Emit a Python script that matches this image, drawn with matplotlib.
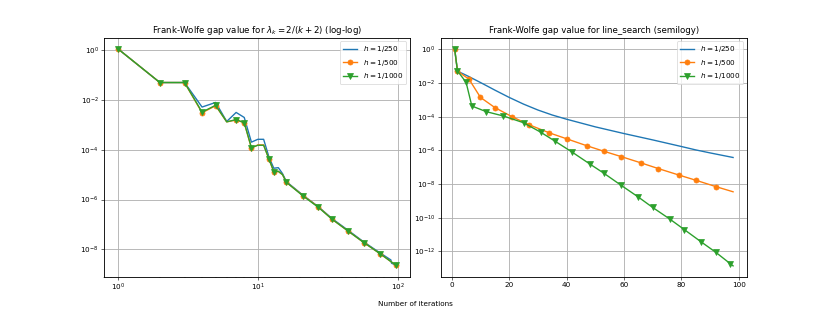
import numpy as np
import matplotlib
matplotlib.use("Agg")
import matplotlib.pyplot as plt

labels = [r"$h = 1/250$", r"$h = 1/500$", r"$h = 1/1000$"]

# log-log panel (step size 2/(k+2))
k_ll = [1, 2, 3, 4, 5, 6, 7, 8, 9, 10, 11, 12, 13, 14, 15, 16, 21, 27, 34, 44, 57, 75, 96, 97]
gap_ll_250 = [1.12, 4.9e-2, 4.9e-2, 5.1e-3, 7.8e-3, 1.35e-3, 3.1e-3, 1.95e-3, 2.0e-4, 2.6e-4,
              2.6e-4, 5.1e-5, 1.8e-5, 1.9e-5, 1.1e-5, 5.2e-6, 1.5e-6, 5.2e-7, 1.7e-7, 5.9e-8,
              2.0e-8, 7.1e-9, 2.4e-9, 2.2e-9]
gap_ll_500 = [1.12, 4.9e-2, 4.9e-2, 3.0e-3, 5.8e-3, 1.3e-3, 1.55e-3, 1.2e-3, 1.15e-4, 1.55e-4,
              1.55e-4, 4.2e-5, 1.3e-5, 1.35e-5, 1.0e-5, 4.9e-6, 1.45e-6, 5.1e-7, 1.6e-7, 5.5e-8,
              1.9e-8, 6.6e-9, 2.4e-9, 2.2e-9]
gap_ll_1000 = [1.12, 4.9e-2, 4.9e-2, 3.2e-3, 6.0e-3, 1.3e-3, 1.6e-3, 1.2e-3, 1.2e-4, 1.5e-4,
               1.5e-4, 4.3e-5, 1.3e-5, 1.35e-5, 1.0e-5, 4.9e-6, 1.4e-6, 4.9e-7, 1.6e-7, 5.5e-8,
               1.9e-8, 6.6e-9, 2.4e-9, 2.2e-9]
# the 1/250 run has a small bump near the end
k_ll_250_tail = [89, 90]
gap_ll_250_tail = [3.8e-9, 2.8e-9]
marks_ll = [0, 1, 2, 3, 4, 6, 7, 8, 11, 12, 15, 16, 17, 18, 19, 20, 21, 22]

# semilogy panel (line search)
k_ls_250 = [1, 2, 4, 6, 8, 10, 12, 15, 20, 25, 30, 35, 40, 50, 60, 70, 80, 85, 90, 95, 98]
gap_ls_250 = [1.1, 5.0e-2, 3.5e-2, 2.4e-2, 1.6e-2, 1.07e-2, 7.1e-3, 3.8e-3, 1.4e-3, 5.6e-4,
              2.5e-4, 1.26e-4, 7.1e-5, 2.5e-5, 1.0e-5, 4.2e-6, 1.7e-6, 1.07e-6, 7.1e-7, 4.8e-7,
              3.8e-7]
k_ls_500 = [1, 2, 6, 10, 15, 21, 27, 34, 40, 47, 53, 59, 66, 72, 79, 85, 92, 98]
gap_ls_500 = [1.1, 5.0e-2, 1.7e-2, 1.4e-3, 3.5e-4, 1.0e-4, 3.3e-5, 1.1e-5, 4.9e-6, 1.9e-6,
              8.9e-7, 4.3e-7, 1.8e-7, 8.3e-8, 3.5e-8, 1.7e-8, 7.1e-9, 3.5e-9]
k_ls_1000 = [1, 2, 5, 7, 12, 18, 25, 31, 36, 42, 48, 53, 59, 65, 70, 76, 81, 87, 92, 97, 98]
gap_ls_1000 = [1.1, 5.2e-2, 1.1e-2, 4.3e-4, 2.0e-4, 1.1e-4, 4.4e-5, 1.2e-5, 3.5e-6, 7.8e-7,
               1.6e-7, 4.4e-8, 8.5e-9, 1.7e-9, 4.1e-10, 8.3e-11, 2.0e-11, 3.6e-12, 8.9e-13,
               1.9e-13, 1.4e-13]

plt.rcParams["lines.linewidth"] = 1.9
plt.rcParams["lines.markersize"] = 7
plt.rcParams["grid.linewidth"] = 1.2
plt.rcParams["axes.linewidth"] = 1.2

fig, (ax1, ax2) = plt.subplots(1, 2, figsize=(830 / 52, 312 / 52), dpi=52)
fig.subplots_adjust(left=0.125, right=0.9, bottom=0.113, top=0.879, wspace=0.1)

# left: log-log
k_blue = k_ll[:-2] + k_ll_250_tail + k_ll[-2:]
g_blue = gap_ll_250[:-2] + gap_ll_250_tail + gap_ll_250[-2:]
ax1.loglog(k_blue, g_blue, label=labels[0])
ax1.loglog(k_ll, gap_ll_500, marker="o", markevery=marks_ll, label=labels[1])
ax1.loglog(k_ll, gap_ll_1000, marker="v", markevery=marks_ll, label=labels[2])
ax1.set_title(r"Frank-Wolfe gap value for $\lambda_k = 2/(k + 2)$ (log-log)")
ax1.grid(True)
ax1.legend(loc="upper right")

# right: semilogy
ax2.semilogy(k_ls_250, gap_ls_250, label=labels[0])
ax2.semilogy(k_ls_500, gap_ls_500, marker="o", markevery=list(range(len(k_ls_500) - 1)),
             label=labels[1])
ax2.semilogy(k_ls_1000, gap_ls_1000, marker="v", markevery=list(range(len(k_ls_1000) - 1)),
             label=labels[2])
ax2.set_title("Frank-Wolfe gap value for line_search (semilogy)")
ax2.grid(True)
ax2.legend(loc="upper right")

fig.text(0.5, 0.025, "Number of iterations", ha="center", va="center")

fig.savefig("out.png", dpi=52)
